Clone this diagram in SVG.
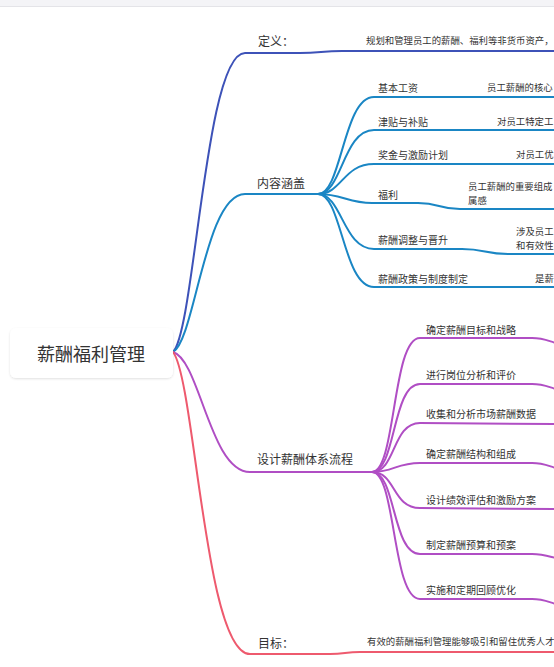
<svg xmlns="http://www.w3.org/2000/svg" width="554" height="667" viewBox="0 0 554 667">
<defs>
<filter id="sh" x="-10%" y="-20%" width="120%" height="150%"><feDropShadow dx="0" dy="1" stdDeviation="1.2" flood-color="#000" flood-opacity="0.12"/></filter>
<style>
text{font-family:"Noto Sans CJK SC","Noto Sans",sans-serif;fill:#333;dominant-baseline:central}
.root{font-size:18px}
.l1{font-size:12px}
.l2{font-size:10px}
.d{font-size:9.4px}
path{fill:none;stroke-width:2;stroke-linecap:round}
.c1{stroke:#3d52b8}
.c2{stroke:#1a86c4}
.c3{stroke:#b04ec4}
.c4{stroke:#ee5a6e}
</style>
</defs>
<rect x="0" y="0" width="554" height="667" fill="#fff"/>
<rect x="0" y="0" width="554" height="6" fill="#f4f4f7"/>
<line x1="0" y1="6.5" x2="554" y2="6.5" stroke="#e4e4e8" stroke-width="1"/>
<g id="connectors">
<path class="c1" d="M173,352 C195,330 205,53 245,53 L300,53 C320,53 322,51 342,51 L560,51"/>
<path class="c2" d="M173,352 C195,340 205,194 245,194 L318,194"/>
<path class="c2" d="M318,194 C342,194 343,97 374,97 L560,97"/>
<path class="c2" d="M318,194 C342,194 343,130 374,130 L560,130"/>
<path class="c2" d="M318,194 C342,194 343,164 374,164 L560,164"/>
<path class="c2" d="M318,194 C342,194 348,203 372,203 L418,203 C440,203 438,209 460,209 L560,209"/>
<path class="c2" d="M318,194 C342,194 343,249 374,249 L462,249 C485,249 485,254 508,254 L560,254"/>
<path class="c2" d="M318,194 C342,194 343,287 374,287 L560,287"/>
<path class="c3" d="M173,352 C200,360 210,472 250,472 L372,472"/>
<path class="c3" d="M372,472 C396,472 392,338 420,338 L532,338 C545,338 550,342 560,344"/>
<path class="c3" d="M372,472 C396,472 392,384 420,384 L532,384 C545,384 550,388 560,390"/>
<path class="c3" d="M372,472 C396,472 392,423 420,423 L560,424"/>
<path class="c3" d="M372,472 C394,472 396,463 420,463 L532,463 C545,463 550,467 560,469"/>
<path class="c3" d="M372,472 C396,472 392,508 420,508 L560,509"/>
<path class="c3" d="M372,472 C396,472 392,554 420,554 L532,554 C545,554 550,557 560,559"/>
<path class="c3" d="M372,472 C396,472 392,599 420,599 L532,599 C545,599 550,603 560,605"/>
<path class="c4" d="M173,352 C195,380 205,654 250,654 L330,654 C345,654 345,652 360,652 L560,652"/>
</g>
<g id="root">
<rect x="10" y="328" width="163" height="50" rx="6" fill="#fff" filter="url(#sh)"/>
<text class="root" x="91" y="353" text-anchor="middle">薪酬福利管理</text>
</g>
<g id="n-dingyi">
<text class="l1" x="258" y="40">定义：</text>
<text class="d" x="366" y="40">规划和管理员工的薪酬、福利等非货币资产，</text>
</g>
<g id="n-neirong">
<text class="l1" x="257" y="182">内容涵盖</text>
</g>
<g id="n-jiben">
<text class="l2" x="378" y="87">基本工资</text>
<text class="d" x="487" y="87">员工薪酬的核心</text>
</g>
<g id="n-jintie">
<text class="l2" x="378" y="121">津贴与补贴</text>
<text class="d" x="497" y="121">对员工特定工</text>
</g>
<g id="n-jiangjin">
<text class="l2" x="378" y="154">奖金与激励计划</text>
<text class="d" x="516" y="154">对员工优</text>
</g>
<g id="n-fuli">
<text class="l2" x="378" y="194">福利</text>
<text class="d" x="468" y="186">员工薪酬的重要组成</text>
<text class="d" x="468" y="200">属感</text>
</g>
<g id="n-tiaozheng">
<text class="l2" x="378" y="239">薪酬调整与晋升</text>
<text class="d" x="516" y="231">涉及员工</text>
<text class="d" x="516" y="245">和有效性</text>
</g>
<g id="n-zhengce">
<text class="l2" x="378" y="278">薪酬政策与制度制定</text>
<text class="d" x="535" y="278">是薪</text>
</g>
<g id="n-sheji">
<text class="l1" x="257" y="458">设计薪酬体系流程</text>
</g>
<g id="n-s1"><text class="l2" x="426" y="329">确定薪酬目标和战略</text></g>
<g id="n-s2"><text class="l2" x="426" y="374">进行岗位分析和评价</text></g>
<g id="n-s3"><text class="l2" x="426" y="413">收集和分析市场薪酬数据</text></g>
<g id="n-s4"><text class="l2" x="426" y="453">确定薪酬结构和组成</text></g>
<g id="n-s5"><text class="l2" x="426" y="499">设计绩效评估和激励方案</text></g>
<g id="n-s6"><text class="l2" x="426" y="544">制定薪酬预算和预案</text></g>
<g id="n-s7"><text class="l2" x="426" y="589">实施和定期回顾优化</text></g>
<g id="n-mubiao">
<text class="l1" x="258" y="642">目标：</text>
<text class="d" x="367" y="641">有效的薪酬福利管理能够吸引和留住优秀人才</text>
</g>
</svg>
